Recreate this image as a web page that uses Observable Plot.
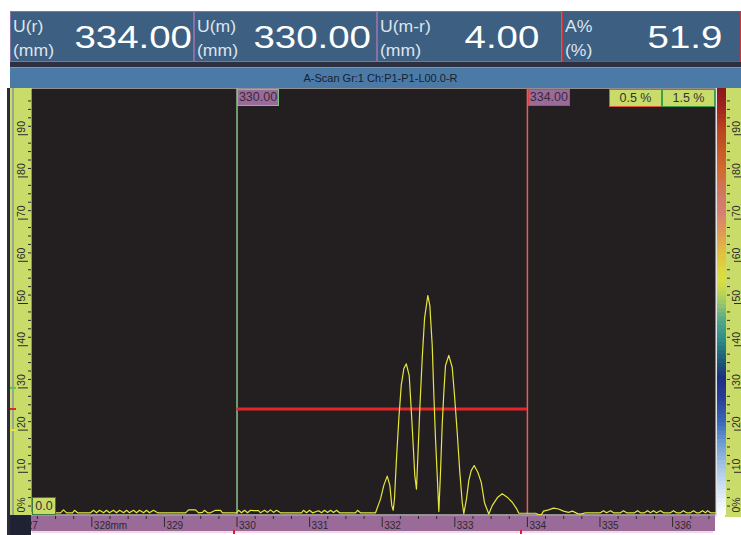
<!DOCTYPE html>
<html><head><meta charset="utf-8">
<script src="https://cdn.jsdelivr.net/npm/d3@7"></script>
<script src="https://cdn.jsdelivr.net/npm/@observablehq/plot@0.6"></script>
<style>
html,body{margin:0;padding:0;background:#fff}
#page{position:relative;width:741px;height:535px;overflow:hidden;font-family:"Liberation Sans",Arial,sans-serif}
.abs{position:absolute;box-sizing:border-box}
.hbox{background:#3d5f81;border:1px solid #8a6fa6;top:11px;height:51px}
.hlab{position:absolute;left:2px;color:#dde5f0;font-size:16px;line-height:16px;white-space:nowrap;transform:scaleX(1.1);transform-origin:left center}
.hval{position:absolute;color:#fff;font-size:32px;line-height:32px;top:9px;white-space:nowrap;transform:scaleX(1.2);transform-origin:right center}
.tag{font-size:12.5px;color:#333;text-align:center;white-space:nowrap}
</style></head><body><div id="page"></div>
<script>
// ---------- data ----------
const headerLabels = ["U(r)", "U(m)", "U(m-r)", "A%"];
const headerUnits = ["(mm)", "(mm)", "(mm)", "(%)"];
const headerValues = ["334.00", "330.00", "4.00", "51.9"];
const scanTitle = "A-Scan Gr:1 Ch:P1-P1-L00.0-R";

const ascanPosition = [
327.169,327.293,327.390,327.500,327.569,327.610,327.652,327.734,327.762,327.803,327.982,328.023,328.065,328.106,328.161,328.202,328.244,328.299,328.340,328.382,328.437,328.478,328.519,328.574,328.616,328.657,328.712,328.753,328.795,328.850,328.905,329.291,329.332,329.428,329.470,329.525,329.552,329.594,329.635,329.704,329.773,329.800,329.993,
330.021,330.062,330.103,330.145,330.186,330.227,330.296,330.324,330.379,330.420,330.461,330.503,330.544,330.599,330.888,330.916,330.957,330.999,331.040,331.123,331.164,331.205,331.247,331.288,331.329,331.371,331.412,331.632,331.660,331.701,331.908,
331.977,332.022,332.069,332.105,332.132,332.152,332.169,332.197,332.229,332.262,332.298,332.332,332.372,332.399,332.427,332.449,332.472,332.490,332.518,332.551,332.583,332.628,332.656,332.689,332.711,332.734,332.758,332.780,332.803,332.826,332.849,332.872,332.917,332.964,332.996,333.033,333.069,333.102,333.124,333.161,333.193,333.226,333.267,333.317,333.364,333.409,333.468,333.515,333.592,333.653,333.722,333.791,333.850,333.882,
334.001,334.112,334.153,334.194,334.222,334.291,334.360,334.428,334.497,334.566,334.621,334.690,334.731,334.800,335.007,335.048,335.090,335.145,335.186,335.282,335.324,335.365,335.475,335.517,335.558,335.613,335.654,335.696,335.737,335.778,335.833,335.875,335.971,336.012,336.054,336.109,336.150,336.191,336.247,336.288,336.329,336.371,336.412,336.453,336.481,336.522,336.591];
const ascanAmplitude = [
0.4,0.9,0.4,0.4,0.4,1.1,0.4,0.4,1.0,0.4,0.4,1.0,0.4,1.0,0.4,1.0,0.4,1.0,0.4,1.0,0.4,1.0,0.4,1.0,0.4,1.0,0.4,1.0,0.4,1.0,0.4,0.4,1.1,1.1,0.4,0.5,1.0,0.4,0.4,1.0,1.0,0.4,0.4,
1.0,0.4,1.0,0.4,1.0,0.9,0.9,0.4,1.0,0.5,1.1,0.5,1.0,0.4,0.4,1.0,0.4,1.0,0.4,0.9,0.4,1.0,0.5,1.0,0.5,1.0,0.4,0.4,1.0,0.4,0.4,
3.7,6.9,9.1,6.9,2.1,1.0,3.8,13.3,22.7,30.6,34.6,35.7,32.9,25.1,16.4,9.2,6.0,13.3,25.1,37.0,46.4,51.9,49.5,40.0,28.5,18.0,9.2,0.7,10.0,21.1,29.0,35.3,37.7,34.9,28.2,19.5,10.0,2.9,0.2,3.7,8.1,10.4,11.6,10.0,7.6,2.8,0.1,2.1,4.1,4.9,4.1,2.9,1.4,0.3,
0.3,0.3,0.0,0.0,0.8,1.1,1.5,1.3,0.8,0.5,0.8,0.2,0.1,0.4,0.4,0.9,0.4,0.9,0.4,0.4,0.9,0.4,0.4,0.9,0.4,0.4,0.9,0.4,0.9,0.4,0.9,0.4,0.4,0.9,0.4,0.4,0.9,0.4,0.4,0.9,0.4,0.4,0.9,0.4,0.9,0.4,0.4];

const gateStart = [330];
const gateEnd = [334];
const gateLevel = [25];
const gateLabels = ["330.00", "334.00"];
const levelMarks = [30, 25, 20];
const levelMarkColors = ["#5cc25c", "#e02a2a", "#e6e63a"];
const tagLabels = ["0.5 %", "1.5 %"];
const cursorLabel = "0.0";
const xTicks = [327, 328, 329, 330, 331, 332, 333, 334, 335, 336];
const xTickLabels = ["327", "328mm", "329", "330", "331", "332", "333", "334", "335", "336"];
const yTicks = [0, 10, 20, 30, 40, 50, 60, 70, 80, 90];
const yTickLabels = ["0%", "10", "20", "30", "40", "50", "60", "70", "80", "90"];
const xDomain = [327.169, 336.591];
const yDomain = [0, 100.95];
const footMarks = [329.966, 333.916];
const paletteStops = [0, 5, 11, 17.5, 22, 27.7, 32.5, 36.5, 41, 46, 49.5, 53, 56, 62, 66, 71.5, 75.6, 82, 86, 92, 97, 101];
const paletteColors = ["#ffffff","#dde8f5","#a8c8e8","#6a98d0","#3a68b8","#2a3e98","#1e2e80","#205878","#2a8888","#50a888","#90c070","#c0d850","#dce040","#e0c040","#e0a050","#d88070","#d07868","#d06a30","#c85a28","#b84020","#a02020","#8a1818"];

// ---------- build ----------
const page = document.getElementById("page");
function box(css, html) {
  const d = document.createElement("div");
  d.className = "abs";
  d.style.cssText += css;
  if (html !== undefined) d.innerHTML = html;
  page.appendChild(d);
  return d;
}

// header
const boxL = [10, 194, 377, 562], boxR = [194, 377, 562, 741], valRight = [192, 371, 539, 722];
headerLabels.forEach((lab, i) => {
  const b = box(`left:${boxL[i]}px;width:${boxR[i] - boxL[i]}px;`);
  b.classList.add("hbox");
  if (i === 3) b.style.borderColor = "#c83a3a";
  b.innerHTML = `<div class="hlab" style="top:7px">${lab}</div><div class="hlab" style="top:31px">${headerUnits[i]}</div>` +
    `<div class="hval" style="right:${boxR[i] - valRight[i] - 1}px">${headerValues[i]}</div>`;
});
box("left:10px;top:62px;width:731px;height:5px;background:#2d3040;");
box(`left:10px;top:67px;width:731px;height:21px;background:#4b7aa6;border-top:1px solid #6f9cc4;color:#16212d;font-size:11px;line-height:20px;text-align:center;padding-left:10px`, scanTitle);

// ruler backgrounds (behind the svg)
box("left:7px;top:88px;width:3px;height:447px;background:#2b2c3a;");
box("left:10px;top:88px;width:21px;height:427px;background:#c9dc6a;");
box("left:12px;top:88px;width:2px;height:427px;background:#9aa58e;");
box("left:31px;top:515px;width:684px;height:16px;background:#9a6b99;border-top:1px solid #8fa08c");
box("left:32px;top:531px;width:681px;height:2px;background:#f2d6ea;");
box("left:725px;top:88px;width:16px;height:429px;background:#c9dc6a;");
box("left:715px;top:88px;width:2px;height:429px;background:#e2e4e6;");

const fontFam = "Liberation Sans, Arial, sans-serif";
const axisCommon = {label: null, fill: "none", stroke: "#2a2a2a"};
const trace = ascanPosition.map((x, i) => ({x, y: ascanAmplitude[i]}));
const minorY = d3.range(0, 101, 2).filter(v => v % 10 !== 0);
const minorX = d3.range(327, 336.6, 0.25).filter(v => Math.abs(v - Math.round(v)) > 1e-6);

const main = Plot.plot({
  width: 741, height: 447,
  marginLeft: 31, marginRight: 26, marginTop: 0, marginBottom: 21,
  style: {background: "transparent", fontFamily: fontFam, fontSize: "10px", overflow: "visible"},
  x: {domain: xDomain, axis: null},
  y: {domain: yDomain, axis: null},
  marks: [
    Plot.frame({fill: "#231f20", stroke: null}),
    Plot.ruleX(gateStart, {stroke: "#8cc48c", strokeWidth: 1.5}),
    Plot.ruleX(gateEnd, {stroke: "#ec5a5a", strokeWidth: 1.5}),
    Plot.ruleY(gateLevel.map((y, i) => ({y, x1: gateStart[i], x2: gateEnd[i]})), {y: "y", x1: "x1", x2: "x2", stroke: "#e3262a", strokeWidth: 3}),
    Plot.line(trace, {x: "x", y: "y", stroke: "#e6e63c", strokeWidth: 1.2}),
    // left ruler
    Plot.axisY(minorY, {anchor: "left", tickSize: 3, ...axisCommon}),
    Plot.axisY(yTicks.filter(v => v > 0), {anchor: "left", tickSize: 10, dx: -3, ...axisCommon}),
    Plot.text(yTicks, {y: d => d, text: (d, i) => yTickLabels[i], frameAnchor: "left", dx: -9.5, dy: -2, rotate: -90, textAnchor: "start", lineAnchor: "middle", fontSize: 10.5, fill: "#2a2a2a"}),
    ...levelMarks.map((v, i) => Plot.axisY([v], {anchor: "left", tickSize: 6, dx: -15, label: null, fill: "none", stroke: levelMarkColors[i], strokeWidth: 2})),
    // bottom ruler
    Plot.axisX(minorX, {anchor: "bottom", tickSize: 3, dy: 2, ...axisCommon}),
    Plot.axisX(xTicks, {anchor: "bottom", tickSize: 10, dy: 3, ...axisCommon}),
    Plot.text(xTicks, {x: d => d, text: (d, i) => xTickLabels[i], frameAnchor: "bottom", dx: 2, dy: 11.5, textAnchor: "start", lineAnchor: "middle", fontSize: 10, fill: "#2a2a2a"})
  ]
});
const wrap = box("left:0;top:88px;width:741px;height:447px;");
wrap.appendChild(main);

// right ruler with colour bar
const pal = d3.scaleLinear().domain(paletteStops).range(paletteColors).interpolate(d3.interpolateRgb);
const bands = d3.range(0, 101).map(v => ({y: v + 0.5, c: pal(v + 0.5)}));
const right = Plot.plot({
  width: 24, height: 429,
  marginLeft: 0, marginRight: 15, marginTop: 0, marginBottom: 3,
  style: {background: "transparent", fontFamily: fontFam, fontSize: "10px", overflow: "visible"},
  y: {domain: yDomain, axis: null},
  x: {axis: null},
  marks: [
    Plot.ruleY(bands, {y: "y", stroke: "c", strokeWidth: 5}),
    Plot.axisY(minorY, {anchor: "right", tickSize: 3, dx: 0, ...axisCommon}),
    Plot.axisY(yTicks.filter(v => v > 0), {anchor: "right", tickSize: 7, dx: 7, ...axisCommon}),
    Plot.text(yTicks, {y: d => d, text: (d, i) => yTickLabels[i], frameAnchor: "right", dx: 10.5, dy: -2, rotate: -90, textAnchor: "start", lineAnchor: "middle", fontSize: 10.5, fill: "#2a2a2a"})
  ]
});
const wrapR = box("left:717px;top:88px;width:24px;height:429px;overflow:hidden;");
wrapR.appendChild(right);

// overlays
const sx = main.scale("x");
box("left:7px;top:515px;width:24px;height:20px;background:#1f2233;border-left:3px solid #2b2c3a");
box(`left:${sx.apply(gateStart[0]) + 0.5}px;top:89px;width:42px;height:17px;background:#9a6b99;border:1px solid #7cc47c;`).innerHTML =
  `<div class="tag" style="line-height:15px;color:#3a2a3a">${gateLabels[0]}</div>`;
box(`left:${sx.apply(gateEnd[0]) + 1}px;top:89px;width:42px;height:17px;background:#9a6b99;border:1px solid #e04040;`).innerHTML =
  `<div class="tag" style="line-height:15px;color:#3a2a3a">${gateLabels[1]}</div>`;
box("left:609px;top:89px;width:53px;height:18px;background:#c9dc6a;border:1px solid #e0553a;").innerHTML =
  `<div class="tag" style="line-height:16px">${tagLabels[0]}</div>`;
box("left:662px;top:89px;width:53px;height:18px;background:#c9dc6a;border:1px solid #3f9a4a;").innerHTML =
  `<div class="tag" style="line-height:16px">${tagLabels[1]}</div>`;
box("left:32px;top:497px;width:24px;height:18px;background:#c9dc6a;border:1px solid #3a7a3a;").innerHTML =
  `<div class="tag" style="line-height:16px">${cursorLabel}</div>`;
footMarks.forEach(m => box(`left:${sx.apply(m) - 1}px;top:530px;width:2px;height:4px;background:#e02020;`));
</script></body></html>
